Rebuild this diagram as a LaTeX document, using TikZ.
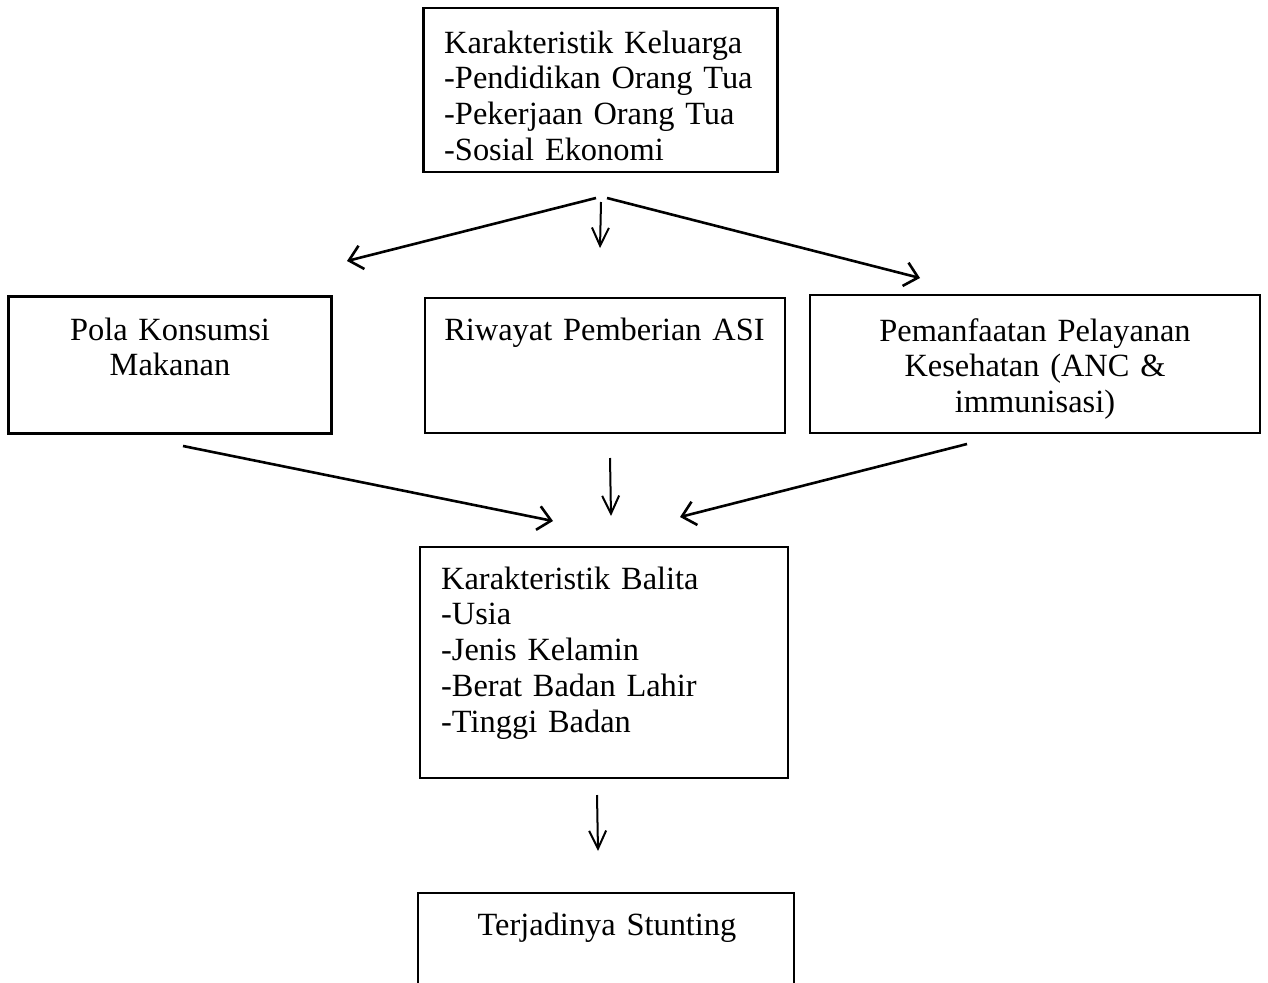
\documentclass[tikz,border=0pt]{standalone}
\usepackage{fontspec}
\setmainfont{Liberation Serif}
\usetikzlibrary{arrows.meta}
\tikzset{
  box/.style={draw=black, line width=2.2pt, inner sep=0pt, rectangle},
  lefttext/.style={anchor=base west, inner sep=0pt, text width=#1, align=left,
    font=\fontsize{32.4}{35.8}\selectfont},
  centertext/.style={anchor=base, inner sep=0pt, text width=#1, align=center,
    font=\fontsize{32.4}{35.8}\selectfont},
  slant/.style={line width=2.6pt, -{Straight Barb[length=13pt, width=24pt, line width=2.6pt]}},
  vert/.style={line width=2pt, -{Straight Barb[length=18pt, width=17pt, line width=2pt]}},
}
\begin{document}
\begin{tikzpicture}[x=1pt, y=-1pt]
\useasboundingbox (0,0) rectangle (1268,982);
\clip (0,0) rectangle (1268,982);
% boxes
\node[box, minimum width=354pt, minimum height=164pt] (kel) at (600.5,90) {};
\node[box, minimum width=323pt, minimum height=137pt] (pola) at (170,365) {};
\node[box, minimum width=360pt, minimum height=135pt] (asi) at (605,365.5) {};
\node[box, minimum width=450pt, minimum height=138pt] (pem) at (1035,364) {};
\node[box, minimum width=368pt, minimum height=231pt] (bal) at (604,662.5) {};
\node[box, minimum width=376pt, minimum height=120pt] (stu) at (606,953) {};
% texts
\node[lefttext=340pt] (kelt) at (444,53) {Karakteristik Keluarga\\-Pendidikan Orang Tua\\-Pekerjaan Orang Tua\\-Sosial Ekonomi};
\node[centertext=300pt] (polat) at (170,340) {Pola Konsumsi\\Makanan};
\node[centertext=350pt] (asit) at (604.5,340) {Riwayat Pemberian ASI};
\node[centertext=430pt] (pemt) at (1035,341) {Pemanfaatan Pelayanan\\Kesehatan (ANC \&\\immunisasi)};
\node[lefttext=340pt] (balt) at (441,589) {Karakteristik Balita\\-Usia\\-Jenis Kelamin\\-Berat Badan Lahir\\-Tinggi Badan};
\node[centertext=360pt] (stut) at (607,935) {Terjadinya Stunting};
% connector end points
\coordinate (a1s) at (596,198); \coordinate (a1e) at (347,261);
\coordinate (a2s) at (601,202); \coordinate (a2e) at (600,248);
\coordinate (a3s) at (607,198); \coordinate (a3e) at (920,278);
\coordinate (a4s) at (183,446); \coordinate (a4e) at (553,521);
\coordinate (a5s) at (610,458); \coordinate (a5e) at (611,516);
\coordinate (a6s) at (967,444); \coordinate (a6e) at (680,517);
\coordinate (a7s) at (597,795); \coordinate (a7e) at (598,851);
\draw[slant] (a1s) -- (a1e);
\draw[vert] (a2s) -- (a2e);
\draw[slant] (a3s) -- (a3e);
\draw[slant] (a4s) -- (a4e);
\draw[vert] (a5s) -- (a5e);
\draw[slant] (a6s) -- (a6e);
\draw[vert] (a7s) -- (a7e);
\end{tikzpicture}
\end{document}
